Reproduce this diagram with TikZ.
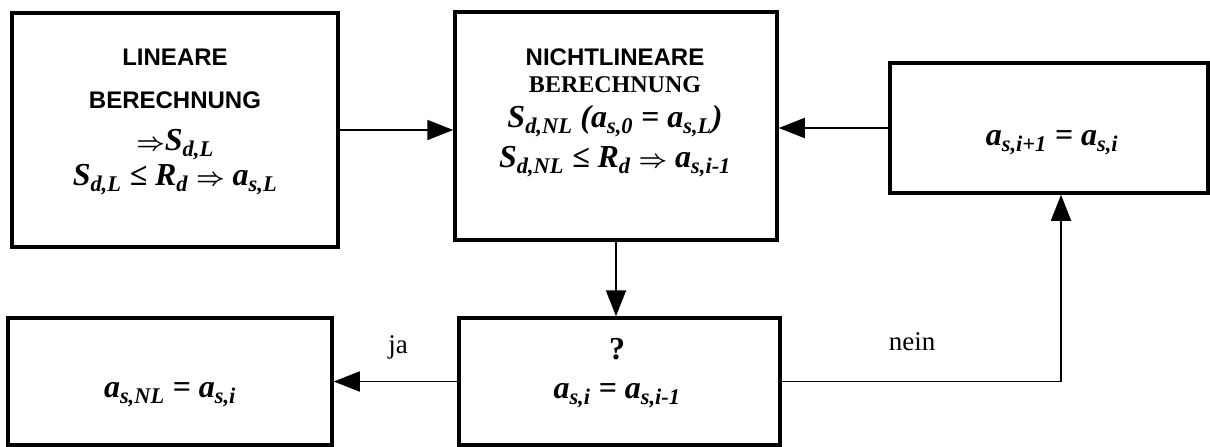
\documentclass[tikz,border=0pt]{standalone}
\usepackage{amsmath}
\usepackage{amssymb}
\usepackage{fontspec}
\setmainfont{Liberation Serif}
\newfontfamily\arialfont{Liberation Sans}
\usetikzlibrary{arrows.meta}

\newcommand{\idx}[1]{\textsubscript{#1}}
\newcommand{\Ra}{$\boldsymbol{\Rightarrow}$}
\newcommand{\sansbf}{\arialfont\upshape\fontsize{24}{30}\selectfont}

\begin{document}
\begin{tikzpicture}[x=1pt, y=-1pt,
    box/.style={draw, line width=3.5pt, inner sep=0pt},
    txt/.style={align=center, anchor=base, inner sep=0pt,
        font={\bfseries\itshape\fontsize{32}{30}\selectfont\lineskiplimit=-50pt}},
    pfeil/.style={line width=1.8pt, -{Triangle[length=26pt,width=20pt]}},
    lbl/.style={anchor=base, inner sep=0pt, font=\fontsize{27}{30}\selectfont}]
    \useasboundingbox (0,0) rectangle (1210,447);

    % Kaesten
    \node[box, minimum width=326pt, minimum height=234pt] (lin) at (175,130) {};
    \node[box, minimum width=322pt, minimum height=228pt] (nlin) at (616,126) {};
    \node[box, minimum width=318pt, minimum height=130pt] (upd) at (1049,128) {};
    \node[box, minimum width=324pt, minimum height=127pt] (res) at (170,381.5) {};
    \node[box, minimum width=321pt, minimum height=127pt] (chk) at (619.5,381.5) {};

    % Texte (Grundlinie der letzten Zeile)
    \node[txt] (lin-t) at (175,185) {{\sansbf LINEARE}\\[13pt] {\sansbf BERECHNUNG}\\[12pt]
        \Ra S\idx{d,L}\\[5pt] S\idx{d,L} ≤ R\idx{d} \Ra{} a\idx{s,L}};
    \node[txt] (nlin-t) at (615,167) {{\sansbf NICHTLINEARE}\\[-3pt] {\upshape\fontsize{24}{30}\selectfont BERECHNUNG}\\[5pt]
        S\idx{d,NL} (a\idx{s,0} = a\idx{s,L})\\[10pt] S\idx{d,NL} ≤ R\idx{d} \Ra{} a\idx{s,i-1}};
    \node[txt] (upd-t) at (1052,145) {a\idx{s,i+1} = a\idx{s,i}};
    \node[txt] (res-t) at (170,397) {a\idx{s,NL} = a\idx{s,i}};
    \node[txt] (chk-t) at (617,398) {{\upshape ?}\\[9pt] a\idx{s,i} = a\idx{s,i-1}};

    % Verbindungen
    \draw[pfeil] (lin.east) -- (lin.east -| nlin.west);
    \draw[pfeil] (upd.west) -- (upd.west -| nlin.east);
    \draw[pfeil] (nlin.south) -- (nlin.south |- chk.north);
    \draw[pfeil] (chk.west) -- (res.east);
    \coordinate (knick) at (1061,381.5);
    \draw[pfeil] (chk.east) -- (knick) -- (knick |- upd.south);

    \node[lbl] (ja) at (398,353) {ja};
    \node[lbl] (nein) at (912,350) {nein};
\end{tikzpicture}
\end{document}
